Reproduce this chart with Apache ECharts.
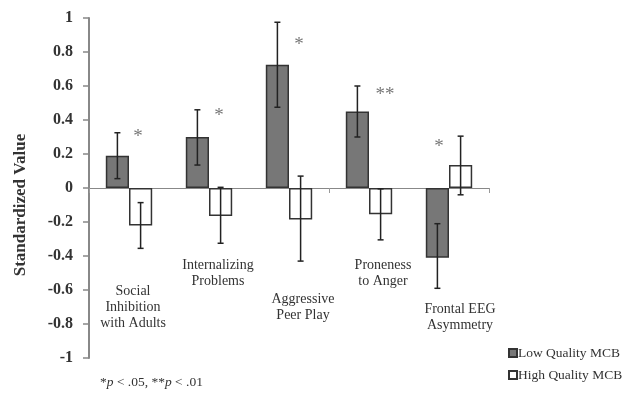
<!DOCTYPE html>
<html><head><meta charset="utf-8">
<script src="https://cdn.jsdelivr.net/npm/echarts@6/dist/echarts.min.js"></script>
<style>html,body{margin:0;padding:0;background:#fff}#c{width:629px;height:393px}</style>
</head><body><div id="c"></div>
<script>
const categories = ['Social Inhibition with Adults','Internalizing Problems','Aggressive Peer Play','Proneness to Anger','Frontal EEG Asymmetry'];
const categoryLabels = ['Social\nInhibition\nwith Adults','Internalizing\nProblems','Aggressive\nPeer Play','Proneness\nto Anger','Frontal EEG\nAsymmetry'];
const lowValues = [0.19, 0.30, 0.725, 0.45, -0.41];
const lowErrLow = [0.055, 0.135, 0.475, 0.30, -0.59];
const lowErrHigh = [0.325, 0.46, 0.975, 0.60, -0.21];
const highValues = [-0.22, -0.165, -0.185, -0.155, 0.135];
const highErrLow = [-0.355, -0.325, -0.43, -0.305, -0.04];
const highErrHigh = [-0.086, 0.004, 0.07, -0.005, 0.305];
const stars = ['*','*','*','**','*'];
const starValues = [0.31, 0.435, 0.85, 0.56, 0.25];
const labelValues = [-0.70, -0.50, -0.70, -0.50, -0.76];
const yTicks = ['-1','-0.8','-0.6','-0.4','-0.2','0','0.2','0.4','0.6','0.8','1'];

const SERIF = '"Liberation Serif","DejaVu Serif",serif';
const chart = echarts.init(document.getElementById('c'), null, {renderer:'canvas'});

function errSeries(name, low, high, side){
  return {
    type:'custom', name: name+'_err', silent:true, z:5,
    data: categories.map((c,i)=>[i, low[i], high[i]]),
    renderItem(params, api){
      const i = api.value(0);
      const band = api.size([1,0])[0];
      const bw = band*0.58/2;
      const cx = api.coord([i,0])[0] + side*bw/2;
      const y1 = api.coord([i, api.value(1)])[1];
      const y2 = api.coord([i, api.value(2)])[1];
      const cap = 3;
      const st = {stroke:'#222', lineWidth:1.5};
      return {type:'group', children:[
        {type:'line', shape:{x1:cx,y1:y1,x2:cx,y2:y2}, style:st},
        {type:'line', shape:{x1:cx-cap,y1:y1,x2:cx+cap,y2:y1}, style:st},
        {type:'line', shape:{x1:cx-cap,y1:y2,x2:cx+cap,y2:y2}, style:st}
      ]};
    }
  };
}

chart.setOption({
  animation:false,
  backgroundColor:'#fff',
  grid:{left:89, right:140, top:18, bottom:35},
  legend:{
    orient:'vertical', left:503, top:341, itemWidth:8, itemHeight:8, itemGap:8,
    icon:'rect',
    data:['Low Quality MCB','High Quality MCB'],
    textStyle:{fontFamily:SERIF, fontSize:13.5, color:'#333', padding:[0,0,0,-4]}
  },
  xAxis:{
    type:'category', data:categories,
    axisLine:{onZero:true, lineStyle:{color:'#888', width:1}},
    axisTick:{show:true, length:5, lineStyle:{color:'#999'}},
    axisLabel:{show:false}, splitLine:{show:false}
  },
  yAxis:{
    type:'value', min:-1, max:1, interval:0.2,
    axisLine:{show:true, lineStyle:{color:'#888', width:2}},
    axisTick:{show:true, length:6, lineStyle:{color:'#888', width:1.5}},
    splitLine:{show:false},
    axisLabel:{fontFamily:SERIF, fontWeight:'bold', fontSize:16, color:'#333', margin:16,
      formatter:(v)=>{ const idx=Math.round((v+1)/0.2); return yTicks[idx]; }}
  },
  series:[
    {name:'Low Quality MCB', type:'bar', data:lowValues, barGap:'0%', barCategoryGap:'42%',
      itemStyle:{color:'#777', borderColor:'#333', borderWidth:1.5}},
    {name:'High Quality MCB', type:'bar', data:highValues, barGap:'0%', barCategoryGap:'42%',
      itemStyle:{color:'#fff', borderColor:'#333', borderWidth:1.5}},
    errSeries('low', lowErrLow, lowErrHigh, -1),
    errSeries('high', highErrLow, highErrHigh, 1)
  ]
});

const starDx = [9, 10, 10, 16, -10];
const labelDx = [4, 9, 14, 14, 11];
const g = [];
categories.forEach((c,i)=>{
  const ps = chart.convertToPixel({gridIndex:0}, [i, starValues[i]]);
  g.push({type:'text', x:ps[0]+starDx[i], y:ps[1]+2, style:{text:stars[i], font:'19px '+SERIF, fill:'#777', align:'center', verticalAlign:'middle'}});
  const pl = chart.convertToPixel({gridIndex:0}, [i, labelValues[i]]);
  g.push({type:'text', x:pl[0]+labelDx[i], y:pl[1], style:{text:categoryLabels[i], font:'14px '+SERIF, fill:'#333', align:'center', verticalAlign:'middle', lineHeight:16}});
});
g.push({type:'text', x:21, y:205, rotation:Math.PI/2, style:{text:'Standardized Value', font:'bold 17px '+SERIF, fill:'#333', align:'center', verticalAlign:'middle'}});
g.push({type:'text', x:100, y:382, style:{
  text:'*{i|p} < .05, **{i|p} < .01', font:'13.5px '+SERIF, fill:'#333', verticalAlign:'middle',
  rich:{i:{fontStyle:'italic', fontFamily:SERIF, fontSize:13.5, fill:'#333'}}}});
chart.setOption({graphic:g});
</script></body></html>
